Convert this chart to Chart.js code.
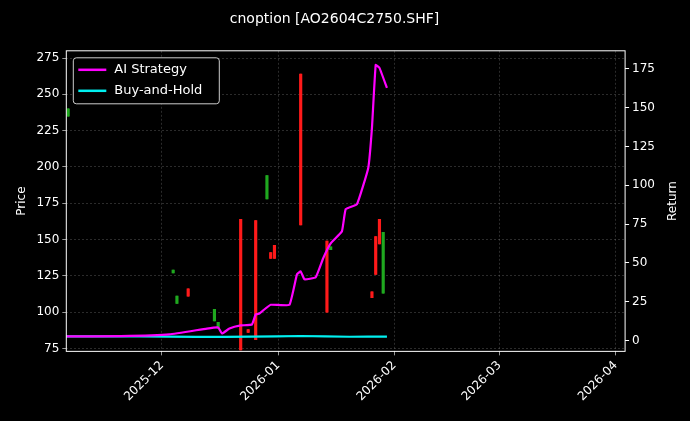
<!DOCTYPE html>
<html>
<head>
<meta charset="utf-8">
<script src="https://cdn.jsdelivr.net/npm/chart.js@4"></script>
<style>
  html, body { margin: 0; padding: 0; background: #000; }
  #wrap { width: 690px; height: 421px; }
</style>
</head>
<body>
<div id="wrap"><canvas id="c"></canvas></div>
<script>
// Candles: date, low, high, open, close (red = down, green = up)
var candleDates = ['2025-11-06', '2025-12-04', '2025-12-05', '2025-12-08', '2025-12-15', '2025-12-16',
  '2025-12-22', '2025-12-24', '2025-12-26', '2025-12-29', '2025-12-30', '2025-12-31',
  '2026-01-07', '2026-01-14', '2026-01-15', '2026-01-26', '2026-01-27', '2026-01-28', '2026-01-29'];
var candleLow = [235, 127, 106, 111, 94, 89, 74, 86, 81, 178, 137, 137, 160, 100, 143, 110, 126, 147, 113];
var candleHigh = [240, 129, 111, 116, 102, 93, 164, 88, 163, 194, 141, 146, 264, 149, 145, 114, 152, 164, 155];
var candleOpen = [235, 127, 106, 116, 94, 89, 164, 88, 163, 178, 141, 146, 264, 149, 143, 114, 152, 164, 113];
var candleClose = [240, 129, 111, 111, 102, 93, 74, 86, 81, 194, 137, 137, 160, 100, 145, 110, 126, 147, 155];

// AI Strategy return curve
var aiDates = ['2025-11-05', '2025-11-20', '2025-12-03', '2025-12-13', '2025-12-16', '2025-12-17', '2025-12-19',
  '2025-12-22', '2025-12-25', '2025-12-26', '2025-12-27', '2025-12-28', '2025-12-30', '2026-01-04',
  '2026-01-06', '2026-01-07', '2026-01-08', '2026-01-11', '2026-01-13', '2026-01-15', '2026-01-18',
  '2026-01-19', '2026-01-22', '2026-01-25', '2026-01-26', '2026-01-27', '2026-01-28', '2026-01-30'];
var aiReturn = [2.6, 2.8, 3.9, 7.7, 8.4, 4.5, 7.7, 9.7, 10.3, 16.8, 17.4, 19.4, 23, 23,
  42.6, 44.5, 39.4, 40.7, 53, 62.6, 70.4, 84.6, 87.8, 111, 137, 177.5, 175.6, 162.7];

// Buy-and-Hold return curve
var bhDates = ['2025-11-05', '2025-11-25', '2025-12-10', '2025-12-25', '2026-01-07', '2026-01-20', '2026-01-30'];
var bhReturn = [2.6, 2.6, 2.3, 2.5, 2.9, 2.4, 2.5];

var xTickDates = ['2025-12-01', '2026-01-01', '2026-02-01', '2026-03-01', '2026-04-01'];

var base = Date.UTC(2025, 11, 1);
function day(s) {
  var p = s.split('-');
  return (Date.UTC(+p[0], +p[1] - 1, +p[2]) - base) / 86400000;
}
function label(d) {
  var t = new Date(base + d * 86400000);
  return t.getUTCFullYear() + '-' + String(t.getUTCMonth() + 1).padStart(2, '0');
}

var wicks = candleDates.map(function (d, i) { return { x: day(d), y: [candleLow[i], candleHigh[i]] }; });
var bodies = candleDates.map(function (d, i) { return { x: day(d), y: [candleOpen[i], candleClose[i]] }; });
var candleColors = candleDates.map(function (d, i) { return candleClose[i] >= candleOpen[i] ? '#1fa81f' : '#ff1a1a'; });

var frameAndLegend = {
  id: 'frameAndLegend',
  afterDraw: function (chart) {
    var ctx = chart.ctx, a = chart.chartArea;
    ctx.save();
    ctx.strokeStyle = '#fff';
    ctx.lineWidth = 1;
    ctx.strokeRect(a.left, a.top, a.right - a.left, a.bottom - a.top);
    var lx = a.left + 7, ly = a.top + 7;
    ctx.fillStyle = '#000';
    ctx.strokeStyle = '#ccc';
    ctx.beginPath();
    ctx.roundRect(lx, ly, 146, 46, 3);
    ctx.fill();
    ctx.stroke();
    var items = [['AI Strategy', '#ff00ff'], ['Buy-and-Hold', '#00f0f0']];
    ctx.font = '13px "DejaVu Sans"';
    ctx.textBaseline = 'middle';
    items.forEach(function (it, i) {
      var y = ly + 12 + i * 21;
      ctx.strokeStyle = it[1];
      ctx.lineWidth = 2.5;
      ctx.beginPath();
      ctx.moveTo(lx + 5, y);
      ctx.lineTo(lx + 33, y);
      ctx.stroke();
      ctx.fillStyle = '#fff';
      ctx.fillText(it[0], lx + 41, y);
    });
    // right axis title, read bottom-to-top
    ctx.font = '12px "DejaVu Sans"';
    ctx.textAlign = 'center';
    ctx.translate(673, (a.top + a.bottom) / 2);
    ctx.rotate(-Math.PI / 2);
    ctx.fillText('Return', 0, 0);
    ctx.restore();
  }
};

var gridOpts = { color: 'rgba(160,160,160,0.45)', lineWidth: 0.6, tickColor: '#fff', tickLength: 4 };

new Chart(document.getElementById('c'), {
  data: {
    datasets: [
      { type: 'line', label: 'AI Strategy', data: aiDates.map(function (d, i) { return { x: day(d), y: aiReturn[i] }; }),
        yAxisID: 'y1', borderColor: '#ff00ff', borderWidth: 2.2, pointRadius: 0, tension: 0.1, order: 0 },
      { type: 'line', label: 'Buy-and-Hold', data: bhDates.map(function (d, i) { return { x: day(d), y: bhReturn[i] }; }),
        yAxisID: 'y1', borderColor: '#00f0f0', borderWidth: 2.2, pointRadius: 0, tension: 0.1, order: 1 },
      { type: 'bar', label: 'wick', data: wicks, yAxisID: 'y', backgroundColor: candleColors,
        barThickness: 1, order: 3, grouped: false },
      { type: 'bar', label: 'body', data: bodies, yAxisID: 'y', backgroundColor: candleColors,
        barThickness: 2.5, order: 2, grouped: false }
    ]
  },
  options: {
    responsive: true,
    maintainAspectRatio: false,
    animation: false,
    layout: { padding: { top: 11, right: 32, left: 11, bottom: 14 } },
    plugins: {
      legend: { display: false },
      tooltip: { enabled: false },
      title: { display: true, text: 'cnoption [AO2604C2750.SHF]', color: '#fff',
        font: { family: 'DejaVu Sans', size: 14, weight: 'normal' }, padding: { top: 0, bottom: 23 } }
    },
    scales: {
      x: {
        type: 'linear', min: -25.5, max: 123.5, offset: false,
        grid: Object.assign({ offset: false }, gridOpts),
        border: { display: false, dash: [2, 2] },
        afterBuildTicks: function (s) { s.ticks = xTickDates.map(function (d) { return { value: day(d) }; }); },
        ticks: { color: '#fff', maxRotation: 45, minRotation: 45, font: { family: 'DejaVu Sans', size: 12 },
          callback: function (v) { return label(v); } }
      },
      y: {
        position: 'left', min: 73, max: 280,
        grid: gridOpts,
        border: { display: false, dash: [2, 2] },
        afterBuildTicks: function (s) { s.ticks = [75, 100, 125, 150, 175, 200, 225, 250, 275].map(function (v) { return { value: v }; }); },
        ticks: { color: '#fff', font: { family: 'DejaVu Sans', size: 12 } },
        title: { display: true, text: 'Price', color: '#fff', font: { family: 'DejaVu Sans', size: 12 } }
      },
      y1: {
        position: 'right', min: -7, max: 186.6,
        grid: { drawOnChartArea: false, tickColor: '#fff', tickLength: 4 },
        border: { display: false },
        afterBuildTicks: function (s) { s.ticks = [0, 25, 50, 75, 100, 125, 150, 175].map(function (v) { return { value: v }; }); },
        ticks: { color: '#fff', font: { family: 'DejaVu Sans', size: 12 } }
      }
    }
  },
  plugins: [frameAndLegend]
});
</script>
</body>
</html>
